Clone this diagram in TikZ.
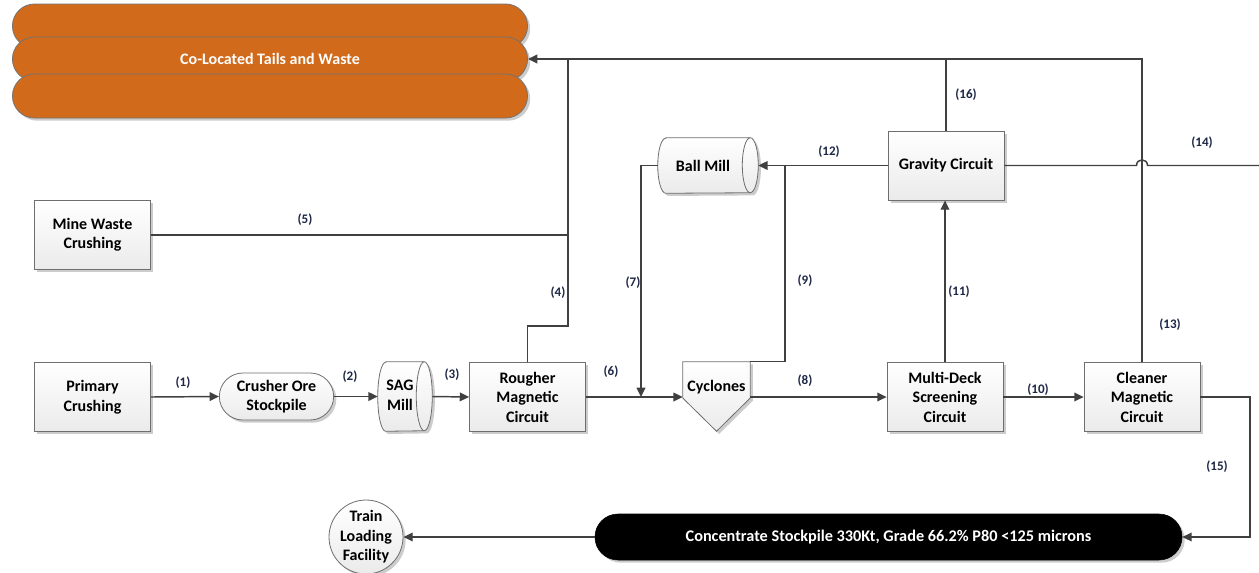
\documentclass[tikz,border=0pt]{standalone}
\usepackage{fontspec}
\setmainfont{Carlito}
\usetikzlibrary{arrows.meta,shapes.misc,shadows,calc}
\pgfdeclarelayer{bg}
\pgfsetlayers{bg,main}
\definecolor{orng}{RGB}{209,106,27}
\definecolor{lnc}{RGB}{64,64,64}
\definecolor{lbl}{RGB}{30,40,70}
\definecolor{bord}{RGB}{110,110,110}
\newcommand\boxfont{\fontsize{12}{14.6}\selectfont\bfseries}
\newcommand\labfont{\fontsize{9.8}{11}\selectfont\bfseries}
\begin{document}
\begin{tikzpicture}[x=0.75pt,y=-0.75pt,
  shad/.style={drop shadow={shadow xshift=2pt,shadow yshift=-2pt,fill=black,opacity=0.2}},
  box/.style={rectangle,draw=bord,line width=0.6pt,top color=white,bottom color=gray!16,shad,
    minimum width=87pt,minimum height=51.75pt,align=center,font=\boxfont,inner sep=1pt},
  stock/.style={rounded rectangle,draw=bord,line width=0.6pt,top color=white,bottom color=gray!16,shad,
    minimum width=87.75pt,minimum height=35.25pt,align=center,font=\boxfont,inner sep=1pt},
  pile/.style={rounded rectangle,draw=black!55,line width=0.6pt,fill=orng,shad,
    minimum width=393pt,minimum height=33pt,font=\boxfont,text=white},
  conc/.style={rounded rectangle,draw=black,fill=black,shad,
    minimum width=447pt,minimum height=34.5pt,font=\fontsize{12.2}{14.6}\selectfont\bfseries,text=white},
  circ/.style={circle,draw=bord,line width=0.6pt,top color=white,bottom color=gray!16,shad,
    minimum size=55.5pt,inner sep=-3pt,align=center,font=\boxfont},
  mill/.style={rectangle,inner sep=0pt,font=\boxfont},
  millbody/.style={draw=bord,line width=0.6pt,top color=white,bottom color=gray!16,shad},
  millline/.style={draw=bord,line width=0.6pt},
  cyclab/.style={inner sep=0pt,font=\boxfont,minimum width=50.25pt,minimum height=37.5pt},
  conn/.style={draw=lnc,line width=1.1pt},
  arr/.style={conn,-{Triangle[length=7pt,width=6.5pt]}},
  lab/.style={font=\labfont,text=lbl,inner sep=0pt}]
\useasboundingbox (0,0) rectangle (1259,572);

% tails and waste piles
\node[pile] (tailsA) at (270,26) {};
\node[pile] (tails) at (270,59) {Co-Located Tails and Waste};
\node[pile] (tailsB) at (270,96) {};

% process nodes
\node[box] (mw) at (92.5,235) {Mine Waste\\Crushing};
\node[box] (pc) at (92.5,397) {Primary\\Crushing};
\node[stock] (cos) at (276.5,396.5) {Crusher Ore\\Stockpile};
\node[mill,minimum width=40.5pt,minimum height=51.75pt] (sag) at (405,396.5)
  {\hspace{-7.5pt}\begin{tabular}{@{}c@{}}SAG\\Mill\end{tabular}};
\node[box] (rough) at (527.5,397) {Rougher\\Magnetic\\Circuit};
\node[cyclab] (cyc) at (716.5,387) {Cyclones};
\node[box] (ms) at (945,397) {Multi-Deck\\Screening\\Circuit};
\node[box] (clean) at (1142,397) {Cleaner\\Magnetic\\Circuit};
\node[box] (grav) at (946,165.5) {Gravity Circuit};
\node[mill,minimum width=75pt,minimum height=41.25pt] (ball) at (708,165.5) {\hspace{-7.5pt}Ball Mill};
\node[conc] (conc) at (888.5,537) {Concentrate Stockpile 330Kt, Grade 66.2\% P80 <125 microns};
\node[circ] (train) at (366,537) {Train\\Loading\\Facility};

% mill and cyclone outlines
\begin{pgfonlayer}{bg}
\draw[millbody] ([xshift=6pt]sag.north west) -- ([xshift=-6pt]sag.north east)
  arc[start angle=90,end angle=-90,x radius=6pt,y radius=25.875pt]
  -- ([xshift=6pt]sag.south west)
  arc[start angle=270,end angle=90,x radius=6pt,y radius=25.875pt] -- cycle;
\draw[millline] ([xshift=-6pt]sag.north east)
  arc[start angle=90,end angle=270,x radius=6pt,y radius=25.875pt];
\draw[millbody] ([xshift=6pt]ball.north west) -- ([xshift=-6pt]ball.north east)
  arc[start angle=90,end angle=-90,x radius=6pt,y radius=20.625pt]
  -- ([xshift=6pt]ball.south west)
  arc[start angle=270,end angle=90,x radius=6pt,y radius=20.625pt] -- cycle;
\draw[millline] ([xshift=-6pt]ball.north east)
  arc[start angle=90,end angle=270,x radius=6pt,y radius=20.625pt];
\draw[millbody] (cyc.north west) -- (cyc.north east) -- ([yshift=-8.25pt]cyc.east)
  -- ([yshift=-14.25pt]cyc.south) -- ([yshift=-8.25pt]cyc.west) -- cycle;
\end{pgfonlayer}

% helper coordinates
\coordinate (j4) at (568,326);
\coordinate (j7) at (641,397);
\coordinate (j9) at (785,165.5);
\coordinate (c15) at (1250,537);
\coordinate (out14) at (1259,165.5);
\coordinate (h1) at (1136.5,165.5);
\coordinate (h2) at (1147.5,165.5);

% connectors
\draw[arr] (pc.east) -- (cos.west);
\draw[arr] (cos.east) -- (sag.west);
\draw[arr] (sag.east) -- (rough.west);
\draw[conn] (rough.north) |- (j4) -- (j4 |- tails.east);
\draw[conn] (mw.east) -- (mw.east -| j4);
\draw[arr] (rough.east) -- (rough.east -| cyc.west);
\draw[arr] (ball.west) -| (j7);
\draw[arr] (ms.west -| cyc.east) -- (ms.west);
\draw[conn] (cyc.north east) -| (j9);
\draw[arr] (grav.west) -- (ball.east);
\draw[arr] (ms.north) -- (ms.north |- grav.south);
\draw[conn] (grav.north) -- (grav.north |- tails.east);
\draw[arr] (clean.north) |- (tails.east);
\draw[arr] (ms.east) -- (clean.west);
\draw[arr] (clean.east) -| (c15) -- (conc.east);
\draw[conn] (grav.east) -- (h1) .. controls (1136.5,158) and (1147.5,158) .. (h2) -- (out14);
\draw[arr] (conc.west) -- (train.east);

% flow labels
\node[lab] (l1) at (183,383) {(1)};
\node[lab] (l2) at (350,377) {(2)};
\node[lab] (l3) at (452,375) {(3)};
\node[lab] (l4) at (558,293) {(4)};
\node[lab] (l5) at (305,220) {(5)};
\node[lab] (l6) at (611,372) {(6)};
\node[lab] (l7) at (633,283) {(7)};
\node[lab] (l8) at (805,381) {(8)};
\node[lab] (l9) at (805,281) {(9)};
\node[lab] (l10) at (1038,390) {(10)};
\node[lab] (l11) at (959,292) {(11)};
\node[lab] (l12) at (829,152) {(12)};
\node[lab] (l13) at (1170,325) {(13)};
\node[lab] (l14) at (1202,143) {(14)};
\node[lab] (l15) at (1217,467) {(15)};
\node[lab] (l16) at (966,95) {(16)};
\end{tikzpicture}
\end{document}
